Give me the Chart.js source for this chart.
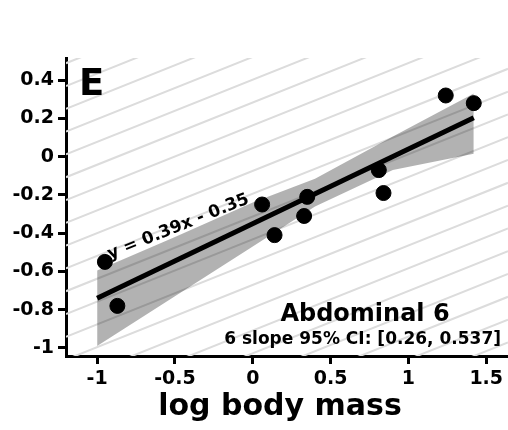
<!DOCTYPE html>
<html>
<head>
<meta charset="utf-8">
<script src="https://cdn.jsdelivr.net/npm/chart.js@4/dist/chart.umd.min.js"></script>
<style>
  html, body { margin: 0; padding: 0; background: #fff; }
  #wrap { width: 508px; height: 430px; }
</style>
</head>
<body>
<div id="wrap"><canvas id="chart" width="508" height="430"></canvas></div>
<script>
// observations (log body mass vs residual)
const massX = [-0.95, -0.87, 0.06, 0.14, 0.33, 0.35, 0.81, 0.84, 1.24, 1.42];
const massY = [-0.55, -0.78, -0.25, -0.41, -0.31, -0.21, -0.07, -0.19, 0.32, 0.28];

// fitted line y = 0.39x - 0.35, end points
const fitX = [-1, 1.42];
const fitY = [-0.74, 0.204];

// confidence band
const bandX = [-1, -0.5, 0, 0.4, 0.9, 1.42];
const bandUpper = [-0.595, -0.42, -0.24, -0.115, 0.105, 0.33];
const bandLower = [-0.99, -0.73, -0.47, -0.26, -0.07, 0.015];

const xTicks = [-1, -0.5, 0, 0.5, 1, 1.5];
const xTickLabels = ["-1", "-0.5", "0", "0.5", "1", "1.5"];
const yTicks = [-1, -0.8, -0.6, -0.4, -0.2, 0, 0.2, 0.4];
const yTickLabels = ["-1", "-0.8", "-0.6", "-0.4", "-0.2", "0", "0.2", "0.4"];

const panelLetter = "E";
const equationText = "y = 0.39x - 0.35";
const groupName = "Abdominal 6";
const ciText = "6 slope 95% CI: [0.26, 0.537]";
const xTitle = "log body mass";

const FONT = "'DejaVu Sans', sans-serif";

const toPoints = (xs, ys) => xs.map((x, i) => ({ x, y: ys[i] }));

// diagonal light grey stripes behind the data
const hatchPlugin = {
  id: "hatch",
  beforeDatasetsDraw(chart) {
    const { ctx, chartArea: a } = chart;
    const slope = 0.4, gap = 22.8, y0 = 86;
    ctx.save();
    ctx.beginPath();
    ctx.rect(a.left, a.top, a.right - a.left, a.bottom - a.top);
    ctx.clip();
    ctx.strokeStyle = "#dcdcdc";
    ctx.lineWidth = 2;
    const span = (a.right - a.left) * slope;
    for (let k = -5; k < 40; k++) {
      const yl = y0 + k * gap;
      ctx.beginPath();
      ctx.moveTo(a.left, yl);
      ctx.lineTo(a.right, yl - span);
      ctx.stroke();
    }
    ctx.restore();
  },
};

const textPlugin = {
  id: "texts",
  afterDraw(chart) {
    const { ctx } = chart;
    ctx.save();
    ctx.fillStyle = "#000";

    ctx.font = `bold 37px ${FONT}`;
    ctx.textAlign = "left";
    ctx.textBaseline = "alphabetic";
    ctx.fillText(panelLetter, 79, 95);

    // equation along the fitted line
    ctx.save();
    ctx.translate(180, 231);
    ctx.rotate(-22 * Math.PI / 180);
    ctx.font = `bold 17px ${FONT}`;
    ctx.textAlign = "center";
    ctx.fillText(equationText, 0, 0);
    ctx.restore();

    ctx.font = `bold 24px ${FONT}`;
    ctx.textAlign = "center";
    ctx.fillText(groupName, 365, 321);

    ctx.font = `bold 17px ${FONT}`;
    ctx.textAlign = "right";
    ctx.fillText(ciText, 501, 344);

    ctx.font = `bold 30px ${FONT}`;
    ctx.textAlign = "center";
    ctx.fillText(xTitle, 280, 415);
    ctx.restore();
  },
};

new Chart(document.getElementById("chart"), {
  type: "scatter",
  data: {
    datasets: [
      {
        label: "band upper",
        type: "line",
        data: toPoints(bandX, bandUpper),
        borderWidth: 0,
        pointRadius: 0,
        fill: "+1",
        backgroundColor: "rgba(0, 0, 0, 0.3)",
        tension: 0,
      },
      {
        label: "band lower",
        type: "line",
        data: toPoints(bandX, bandLower),
        borderWidth: 0,
        pointRadius: 0,
        fill: false,
        tension: 0,
      },
      {
        label: "fit",
        type: "line",
        data: toPoints(fitX, fitY),
        borderColor: "#000",
        borderWidth: 5,
        pointRadius: 0,
        fill: false,
      },
      {
        label: "species",
        data: toPoints(massX, massY),
        backgroundColor: "#000",
        borderColor: "#000",
        pointRadius: 7.5,
        pointHoverRadius: 7.5,
      },
    ],
  },
  plugins: [hatchPlugin, textPlugin],
  options: {
    responsive: false,
    animation: false,
    devicePixelRatio: 1,
    layout: { autoPadding: false, padding: { top: 58, right: 0, left: 0, bottom: 0 } },
    plugins: {
      legend: { display: false },
      tooltip: { enabled: false },
    },
    scales: {
      x: {
        type: "linear",
        min: -1.2,
        max: 1.64,
        afterFit: (s) => { s.height = 74; s.paddingRight = 0; },
        afterBuildTicks: (s) => { s.ticks = xTicks.map((value) => ({ value })); },
        border: { display: true, color: "#000", width: 3 },
        grid: {
          drawOnChartArea: false,
          drawTicks: true,
          tickLength: 8,
          tickWidth: 3,
          tickColor: "#000",
        },
        ticks: {
          color: "#000",
          padding: 4,
          font: { family: FONT, size: 19, weight: "bold" },
          maxRotation: 0,
          callback: (v) => xTickLabels[xTicks.indexOf(v)],
        },
      },
      y: {
        type: "linear",
        min: -1.042,
        max: 0.516,
        afterFit: (s) => { s.width = 66; },
        afterBuildTicks: (s) => { s.ticks = yTicks.map((value) => ({ value })); },
        border: { display: true, color: "#000", width: 3 },
        grid: {
          drawOnChartArea: false,
          drawTicks: true,
          tickLength: 8,
          tickWidth: 3,
          tickColor: "#000",
        },
        ticks: {
          color: "#000",
          padding: 4,
          font: { family: FONT, size: 19, weight: "bold" },
          callback: (v) => yTickLabels[yTicks.indexOf(v)],
        },
      },
    },
  },
});
</script>
</body>
</html>
